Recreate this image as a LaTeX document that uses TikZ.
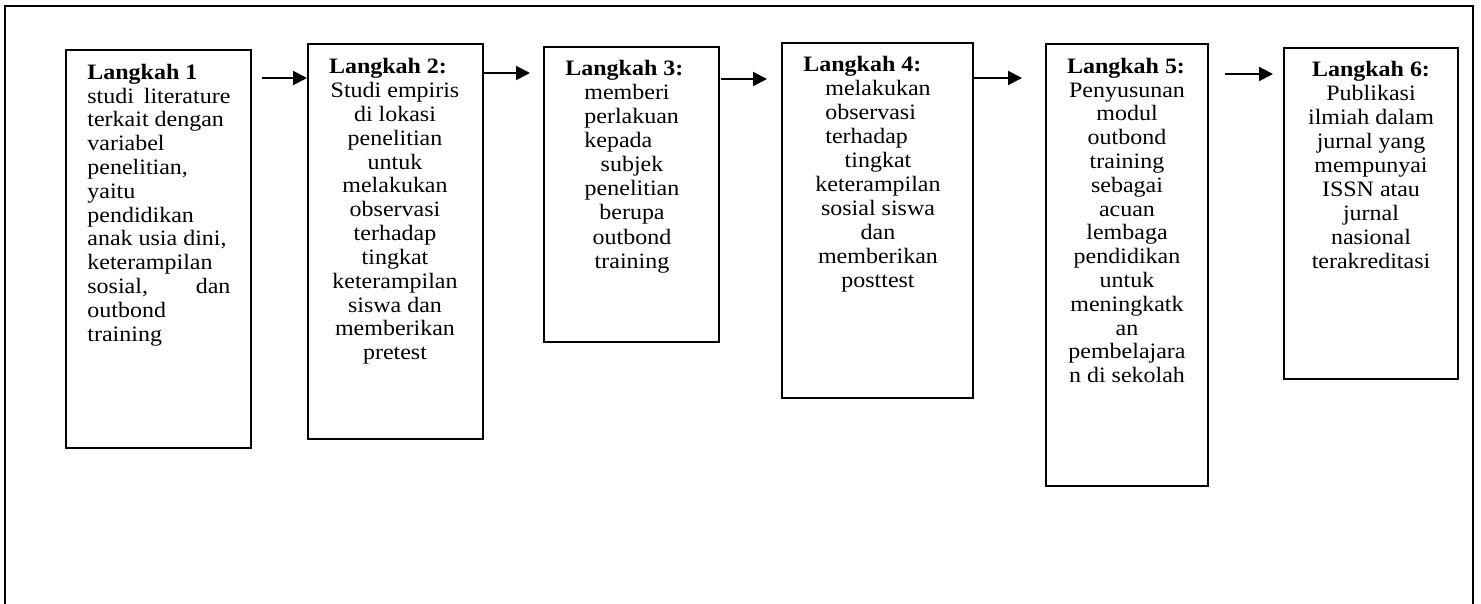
\documentclass[tikz,border=0pt]{standalone}
\usepackage{fontspec}
\setmainfont{Liberation Serif}[FakeStretch=1.09]
\usetikzlibrary{arrows.meta,fit}
\begin{document}
\begin{tikzpicture}[x=0.5pt,y=-0.5pt,
  box/.style={draw, line width=1pt, inner sep=0pt},
  txt/.style={font=\fontsize{11}{12}\selectfont, inner sep=0pt},
  hd/.style={inner sep=0pt, font=\fontsize{11}{12}\selectfont\bfseries},
  conn/.style={line width=1pt, -{Triangle[length=7pt,width=7pt]}}]
\useasboundingbox (0,0) rectangle (1481,604);
% outer frame (bottom edge lies outside the picture)
\coordinate (fbl) at (5,640);
\coordinate (ftl) at (5,6);
\coordinate (ftr) at (1473,6);
\coordinate (fbr) at (1473,640);
\draw[line width=1pt] (fbl) -- (ftl) -- (ftr) -- (fbr);

% Box 1
\node[box, fit={(66,50)(251,448)}] (b1) {};
\node[hd, anchor=base west] (h1) at (87,79.3) {Langkah 1};
\foreach \t [count=\i] in {{\makebox[71.5pt][s]{studi literature}},terkait dengan,variabel,{penelitian,},yaitu,pendidikan,{anak usia dini,},keterampilan,{\makebox[71.5pt][s]{sosial, dan}},outbond,training}
  \node[txt, anchor=base west] (l1-\i) at (87,{79.3+23.8*\i}) {\t};

% Box 2
\node[box, fit={(308,44)(483,439)}] (b2) {};
\node[hd, anchor=base] (h2) at (388,74) {Langkah 2:};
\foreach \t [count=\i] in {Studi empiris,di lokasi,penelitian,untuk,melakukan,observasi,terhadap,tingkat,keterampilan,siswa dan,memberikan,pretest}
  \node[txt, anchor=base] (l2-\i) at (395,{74+23.8*\i}) {\t};

% Box 3
\node[box, fit={(544,47)(719,342)}] (b3) {};
\node[hd, anchor=base west] (h3) at (565,76) {Langkah 3:};
\foreach \t [count=\i] in {memberi,perlakuan,kepada}
  \node[txt, anchor=base west] (l3a-\i) at (584,{76+24*\i}) {\t};
\foreach \t [count=\i from 4] in {subjek,penelitian,berupa,outbond,training}
  \node[txt, anchor=base] (l3b-\i) at (632,{76+24*\i}) {\t};

% Box 4
\node[box, fit={(782,43)(973,398)}] (b4) {};
\node[hd, anchor=base west] (h4) at (803,71.7) {Langkah 4:};
\foreach \t [count=\i] in {melakukan,observasi,terhadap}
  \node[txt, anchor=base west] (l4a-\i) at (825,{71.7+23.96*\i}) {\t};
\foreach \t [count=\i from 4] in {tingkat,keterampilan,sosial siswa,dan,memberikan,posttest}
  \node[txt, anchor=base] (l4b-\i) at (878,{71.7+23.96*\i}) {\t};

% Box 5
\node[box, fit={(1046,44)(1208,486)}] (b5) {};
\node[hd, anchor=base] (h5) at (1126,73.3) {Langkah 5:};
\foreach \t [count=\i] in {Penyusunan,modul,outbond,training,sebagai,acuan,lembaga,pendidikan,untuk,meningkatk,an,pembelajara,n di sekolah}
  \node[txt, anchor=base] (l5-\i) at (1127,{73.3+23.8*\i}) {\t};

% Box 6
\node[box, fit={(1284,48)(1458,379)}] (b6) {};
\node[hd, anchor=base] (h6) at (1371,76.7) {Langkah 6:};
\foreach \t [count=\i] in {Publikasi,ilmiah dalam,jurnal yang,mempunyai,ISSN atau,jurnal,nasional,terakreditasi}
  \node[txt, anchor=base] (l6-\i) at (1371,{76.7+23.95*\i}) {\t};

% connectors
\coordinate (a1s) at (262,78);
\draw[conn] (a1s) -- (a1s -| b2.west);
\coordinate (a2e) at (530,73);
\draw[conn] (a2e -| b2.east) -- (a2e);
\coordinate (a3s) at (721,79);
\coordinate (a3e) at (767,79);
\draw[conn] (a3s) -- (a3e);
\coordinate (a4e) at (1022,78);
\draw[conn] (a4e -| b4.east) -- (a4e);
\coordinate (a5s) at (1225,74);
\coordinate (a5e) at (1273,74);
\draw[conn] (a5s) -- (a5e);
\end{tikzpicture}
\end{document}
